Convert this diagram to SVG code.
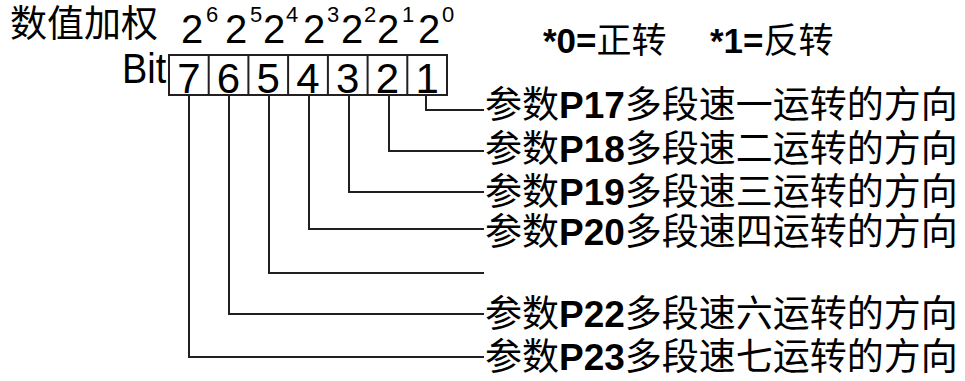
<svg xmlns="http://www.w3.org/2000/svg" width="965" height="381" viewBox="0 0 965 381">
<style>
.t{font-family:"Liberation Sans","Noto Sans CJK SC",sans-serif;fill:#000}
.b{font-weight:bold}
.l{fill:none;stroke:#231f20;stroke-width:2}
.c{fill:#fff;stroke:#231f20;stroke-width:2}
</style>
<rect width="965" height="381" fill="#fff"/>
<g id="header">
<text class="t" x="10" y="37" font-size="37">数值加权</text>
<g font-size="40" class="t">
<text x="181" y="43">2</text><text x="225" y="43">2</text><text x="263" y="43">2</text><text x="303" y="43">2</text><text x="341" y="43">2</text><text x="377" y="43">2</text><text x="418" y="43">2</text>
</g>
<g font-size="22" class="t">
<text x="206" y="22">6</text><text x="250" y="22">5</text><text x="286" y="22">4</text><text x="327" y="22">3</text><text x="364" y="22">2</text><text x="402" y="22">1</text><text x="442" y="22">0</text>
</g>
</g>
<g id="legend">
<text class="t" x="543" y="53" font-size="35"><tspan class="b">*0=</tspan>正转</text>
<text class="t" x="710" y="53" font-size="35"><tspan class="b">*1=</tspan>反转</text>
</g>
<g id="register">
<text class="t" transform="translate(122 83) scale(0.88 1)" font-size="43">Bit</text>
<rect class="c" x="169" y="55" width="278" height="40"/>
<path class="l" d="M208.7 55V95M248.4 55V95M288.1 55V95M327.9 55V95M367.6 55V95M407.3 55V95"/>
<g class="t" font-size="42" text-anchor="middle">
<text x="189" y="93">7</text><text x="228.5" y="93">6</text><text x="268.3" y="93">5</text><text x="308" y="93">4</text><text x="347.7" y="93">3</text><text x="387.4" y="93">2</text><text x="427.2" y="93">1</text>
</g>
</g>
<g id="connectors">
<path class="l" d="M426 95V110H484"/>
<path class="l" d="M389 95V151H484"/>
<path class="l" d="M349 95V192H484"/>
<path class="l" d="M309 95V229H484"/>
<path class="l" d="M269 95V273H484"/>
<path class="l" d="M229 95V314H484"/>
<path class="l" d="M189 95V357H484"/>
</g>
<g id="labels" class="t" font-size="37">
<text id="p17" x="485" y="118">参数<tspan class="b">P17</tspan>多段速一运转的方向</text>
<text id="p18" x="485" y="162">参数<tspan class="b">P18</tspan>多段速二运转的方向</text>
<text id="p19" x="485" y="205">参数<tspan class="b">P19</tspan>多段速三运转的方向</text>
<text id="p20" x="485" y="245">参数<tspan class="b">P20</tspan>多段速四运转的方向</text>
<text id="p22" x="485" y="327">参数<tspan class="b">P22</tspan>多段速六运转的方向</text>
<text id="p23" x="485" y="370">参数<tspan class="b">P23</tspan>多段速七运转的方向</text>
</g>
</svg>
